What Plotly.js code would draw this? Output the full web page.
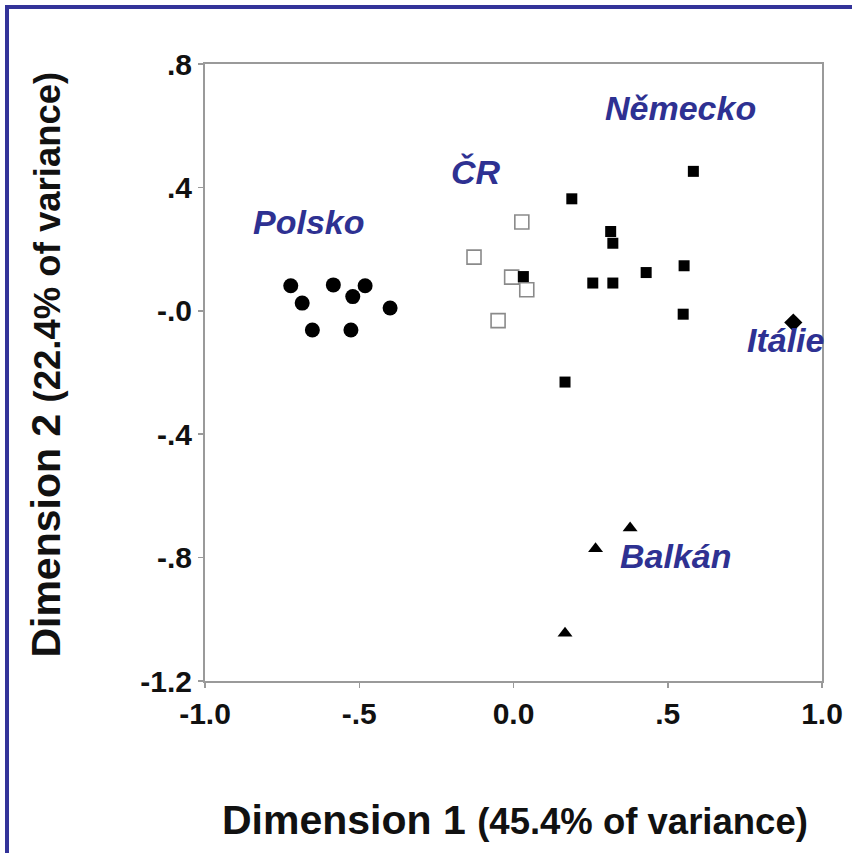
<!DOCTYPE html>
<html>
<head>
<meta charset="utf-8">
<script src="https://cdn.plot.ly/plotly-3.0.1.min.js"></script>
<style>
body{margin:0;background:#fff;}
#wrap{position:relative;width:852px;height:853px;overflow:hidden;}
#frame{position:absolute;left:5px;top:5px;width:900px;height:900px;border-top:4px solid #333399;border-left:4px solid #333399;pointer-events:none;z-index:5;}
#chart{position:absolute;left:0;top:0;width:852px;height:853px;}
</style>
</head>
<body>
<div id="wrap"><div id="chart"></div><div id="frame"></div></div>
<script>
// Polsko (filled circles)
const polskoX = [-0.722, -0.685, -0.652, -0.584, -0.521, -0.481, -0.527, -0.400];
const polskoY = [0.081, 0.025, -0.062, 0.084, 0.046, 0.081, -0.062, 0.009];
// CR (open squares)
const crX = [0.027, -0.128, -0.006, 0.043, -0.050];
const crY = [0.288, 0.174, 0.109, 0.068, -0.032];
// Nemecko (filled squares)
const nemX = [0.583, 0.189, 0.315, 0.322, 0.430, 0.553, 0.257, 0.322, 0.550, 0.167, 0.032];
const nemY = [0.452, 0.363, 0.257, 0.219, 0.124, 0.146, 0.090, 0.090, -0.011, -0.231, 0.111];
// Italie (diamond)
const itX = [0.907];
const itY = [-0.038];
// Balkan (triangles)
const balX = [0.378, 0.266, 0.167];
const balY = [-0.704, -0.771, -1.045];

const xTickVals = [-1, -0.5, 0, 0.5, 1];
const xTickText = ['-1.0', '-.5', '0.0', '.5', '1.0'];
const yTickVals = [-1.2, -0.8, -0.4, 0, 0.4, 0.8];
const yTickText = ['-1.2', '-.8', '-.4', '-.0', '.4', '.8'];

const groupNames = ['Polsko', 'ČR', 'Německo', 'Itálie', 'Balkán'];

const FONT = 'Liberation Sans, Arial, sans-serif';
const LBL = '#2e3192';

const traces = [
  {x: polskoX, y: polskoY, name: groupNames[0], type: 'scatter', mode: 'markers',
   marker: {symbol: 'circle', size: 15, color: '#000'}},
  {x: crX, y: crY, name: groupNames[1], type: 'scatter', mode: 'markers',
   marker: {symbol: 'square-open', size: 14, color: '#8a8a8a', line: {width: 1.6, color: '#8a8a8a'}}},
  {x: nemX, y: nemY, name: groupNames[2], type: 'scatter', mode: 'markers',
   marker: {symbol: 'square', size: 11, color: '#000'}},
  {x: itX, y: itY, name: groupNames[3], type: 'scatter', mode: 'markers',
   marker: {symbol: 'diamond', size: 14, color: '#000'}},
  {x: balX, y: balY, name: groupNames[4], type: 'scatter', mode: 'markers',
   marker: {symbol: 'triangle-up', size: 13, color: '#000'}}
];

const lblFont = {family: FONT, size: 34, color: LBL, weight: 'bold', style: 'italic'};
function groupLabel(text, x, y) {
  return {text: text, x: x, y: y, xref: 'x', yref: 'y', showarrow: false,
          xanchor: 'center', yanchor: 'middle', font: lblFont};
}

const layout = {
  width: 852, height: 853,
  margin: {l: 205, r: 30, t: 64, b: 172},
  paper_bgcolor: '#fff', plot_bgcolor: '#fff',
  showlegend: false,
  font: {family: FONT, color: '#111'},
  xaxis: {
    range: [-1, 1], tickvals: xTickVals, ticktext: xTickText,
    showgrid: false, zeroline: false, showline: true, mirror: true,
    linecolor: '#9a9a9a', linewidth: 2, ticks: 'outside', ticklen: 5, tickwidth: 1.5, tickcolor: '#9a9a9a',
    tickfont: {family: FONT, size: 30, color: '#111', weight: 'bold'}, fixedrange: true
  },
  yaxis: {
    range: [-1.2, 0.8], tickvals: yTickVals, ticktext: yTickText,
    showgrid: false, zeroline: false, showline: true, mirror: true,
    linecolor: '#9a9a9a', linewidth: 2, ticks: 'outside', ticklen: 5, tickwidth: 1.5, tickcolor: '#9a9a9a',
    tickfont: {family: FONT, size: 30, color: '#111', weight: 'bold'}, fixedrange: true
  },
  annotations: [
    groupLabel(groupNames[0], -0.665, 0.288),
    groupLabel(groupNames[1], -0.120, 0.451),
    groupLabel(groupNames[2], 0.540, 0.658),
    groupLabel(groupNames[3], 0.883, -0.094),
    groupLabel(groupNames[4], 0.528, -0.794),
    {text: 'Dimension 1 <span style="font-size:36.5px">(45.4% of variance)</span>',
     xref: 'paper', yref: 'paper', x: 0.5024, y: -0.2253, xanchor: 'center', yanchor: 'middle',
     showarrow: false, font: {family: FONT, size: 41, color: '#111', weight: 'bold'}},
    {text: 'Dimension 2 <span style="font-size:36.5px">(22.4% of variance)</span>',
     xref: 'paper', yref: 'paper', x: -0.2575, y: 0.513, xanchor: 'center', yanchor: 'middle',
     textangle: -90, showarrow: false, font: {family: FONT, size: 41, color: '#111', weight: 'bold'}}
  ]
};

Plotly.newPlot('chart', traces, layout, {displayModeBar: false, staticPlot: true});
</script>
</body>
</html>
